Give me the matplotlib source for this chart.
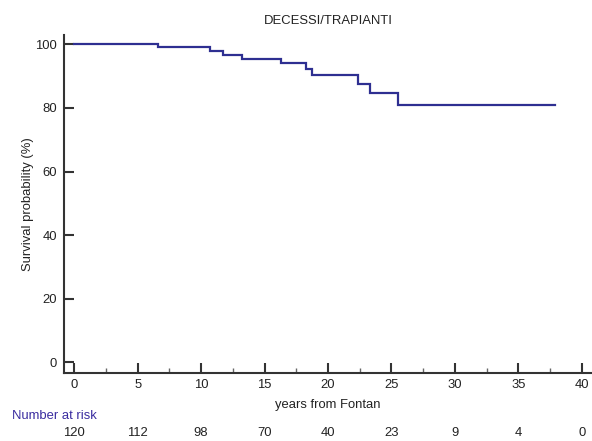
import matplotlib
matplotlib.use("Agg")
import matplotlib.pyplot as plt
import matplotlib.transforms as mtransforms
import numpy as np

# Kaplan-Meier step points (years, survival %)
times = [0, 6.6, 10.7, 11.75, 13.2, 16.3, 18.3, 18.7, 22.4, 23.3, 25.5]
survival = [100, 99.2, 98.0, 96.7, 95.4, 94.1, 92.2, 90.4, 87.5, 84.6, 80.8]
last_time = 37.9

risk_times = [0, 5, 10, 15, 20, 25, 30, 35, 40]
at_risk = [120, 112, 98, 70, 40, 23, 9, 4, 0]

plt.rcParams["font.family"] = ["Liberation Sans", "DejaVu Sans"]

curve_color = "#2e2f91"
axis_color = "#333333"
text_color = "#222222"
fs = 9.4

fig = plt.figure(figsize=(5.92, 4.41), dpi=100)
ax = fig.add_axes([64 / 592, 68 / 441, 528 / 592, 338 / 441])

t = np.append(times, last_time)
s = np.append(survival, survival[-1])
ax.step(t, s, where="post", color=curve_color, linewidth=1.6, solid_joinstyle="miter")

ax.set_xlim(-0.8, 40.8)
ax.set_ylim(-3.3, 102.9)

for side in ("top", "right"):
    ax.spines[side].set_visible(False)
for side in ("left", "bottom"):
    ax.spines[side].set_color(axis_color)
    ax.spines[side].set_linewidth(1.5)

ax.set_xticks(np.arange(0, 41, 5))
ax.set_xticks(np.arange(2.5, 40, 5), minor=True)
ax.set_yticks(np.arange(0, 101, 20))
ax.tick_params(axis="both", which="major", direction="in", length=7.2, width=1.5,
               color=axis_color, labelsize=fs, labelcolor=text_color)
ax.tick_params(axis="x", which="major", pad=4)
ax.tick_params(axis="y", which="major", pad=5)
ax.tick_params(axis="x", which="minor", direction="in", length=3.6, width=1.0,
               color="#666666")

ax.set_title("DECESSI/TRAPIANTI", fontsize=fs, color=text_color, pad=8)
ax.set_xlabel("years from Fontan", fontsize=fs, color=text_color, labelpad=6)
ax.set_ylabel("Survival probability (%)", fontsize=fs, color=text_color, labelpad=1)

trans = mtransforms.blended_transform_factory(ax.transData, fig.transFigure)
fig.text(12 / 592, 1 - 416 / 441, "Number at risk", fontsize=fs, color="#3a2ca0",
         ha="left", va="center")
for x, n in zip(risk_times, at_risk):
    ax.text(x, 1 - 433 / 441, str(n), transform=trans, fontsize=fs, color=text_color,
            ha="center", va="center", clip_on=False)

fig.savefig("out.png", dpi=100)
